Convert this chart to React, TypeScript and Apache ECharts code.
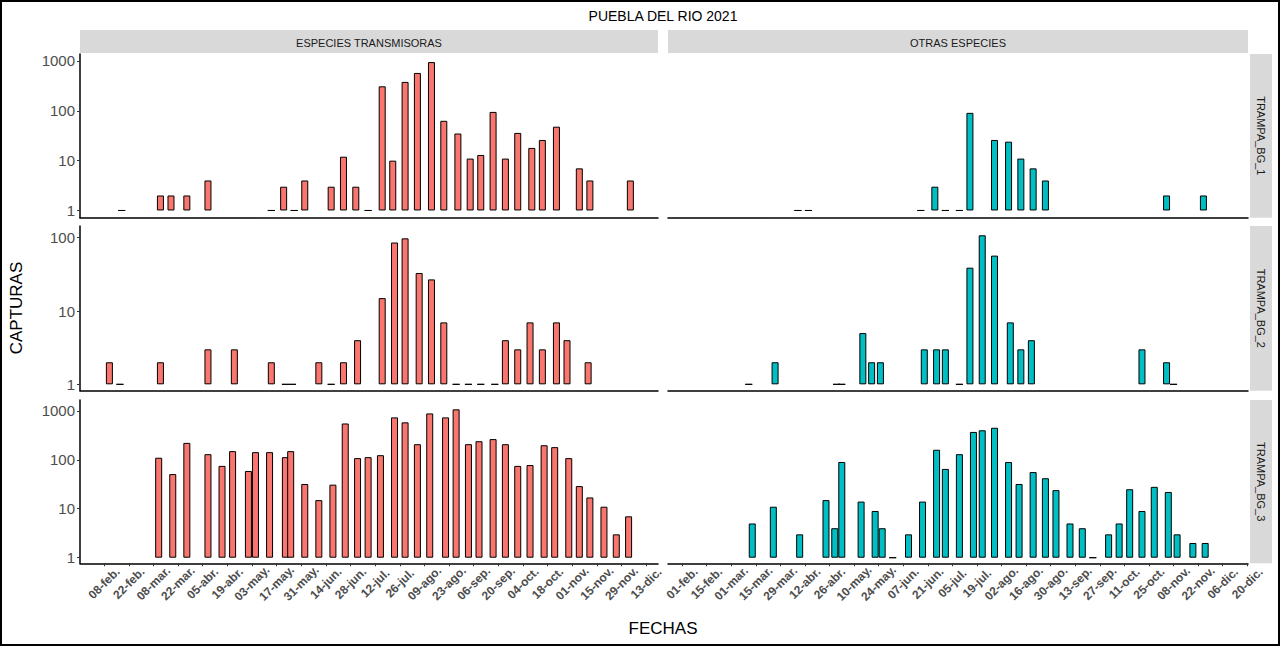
import React, { useEffect, useRef } from "react";
import * as echarts from "echarts";

// x values: days after 08-feb-2021 (left column) / days after 01-feb-2021 (right column)
const T1_X = [10, 32, 38, 47, 59, 95, 102, 108, 114, 129, 136, 143, 150, 158, 164, 171, 178, 186, 193, 201, 208, 214, 221, 228, 235, 243, 249, 257, 270, 276, 299];
const T1_V = [1, 2, 2, 2, 4, 1, 3, 1, 4, 3, 12, 3, 1, 310, 10, 380, 575, 950, 63, 35, 11, 13, 95, 11, 36, 18, 26, 48, 7, 4, 4];
const T2_X = [3, 9, 32, 59, 74, 95, 103, 107, 122, 129, 136, 144, 158, 165, 171, 179, 186, 193, 200, 207, 214, 222, 228, 235, 242, 249, 257, 263, 275];
const T2_V = [2, 1, 2, 3, 3, 2, 1, 1, 2, 1, 2, 4, 15, 86, 98, 33, 27, 7, 1, 1, 1, 1, 4, 3, 7, 3, 7, 4, 2];
const T3_X = [31, 39, 47, 59, 67, 73, 82, 86, 94, 103, 106, 114, 122, 130, 137, 144, 150, 157, 165, 171, 178, 185, 194, 200, 207, 213, 221, 228, 235, 242, 250, 256, 264, 270, 276, 284, 291, 298];
const T3_V = [110, 51, 221, 130, 75, 150, 59, 143, 143, 113, 150, 32, 15, 31, 550, 108, 113, 124, 733, 580, 208, 883, 733, 1070, 208, 239, 264, 208, 75, 78, 198, 181, 108, 29, 17, 11, 3, 7];

const O1_X = [66, 72, 136, 144, 150, 158, 164, 178, 186, 193, 200, 207, 276, 297];
const O1_V = [1, 1, 1, 3, 1, 1, 91, 26, 24, 11, 7, 4, 2, 2];
const O2_X = [38, 53, 88, 91, 103, 108, 113, 138, 145, 150, 158, 164, 171, 178, 187, 193, 199, 262, 276, 280];
const O2_V = [1, 2, 1, 1, 5, 2, 2, 3, 3, 3, 1, 39, 108, 57, 7, 3, 4, 3, 2, 1];
const O3_X = [40, 52, 67, 82, 87, 91, 102, 110, 114, 120, 129, 137, 145, 150, 158, 166, 171, 178, 186, 192, 200, 207, 213, 221, 228, 234, 243, 249, 255, 262, 269, 277, 282, 291, 298];
const O3_V = [5, 11, 3, 15, 4, 90, 14, 9, 4, 1, 3, 14, 160, 65, 130, 370, 400, 450, 90, 32, 56, 42, 24, 5, 4, 1, 3, 5, 25, 9, 28, 22, 3, 2, 2];

const LEFT_TICKS = Array.from({ length: 23 }, (_, i) => i * 14);
const RIGHT_TICKS = Array.from({ length: 24 }, (_, i) => i * 14);
const Y_TICKS = [1, 10, 100, 1000];
const COLUMNS = ["ESPECIES TRANSMISORAS", "OTRAS ESPECIES"];
const ROWS = ["TRAMPA_BG_1", "TRAMPA_BG_2", "TRAMPA_BG_3"];
const MONTHS = ["ene", "feb", "mar", "abr", "may", "jun", "jul", "ago", "sep", "oct", "nov", "dic"];

const LEFT_BASE = Date.UTC(2021, 1, 8);
const RIGHT_BASE = Date.UTC(2021, 1, 1);

function fmtDate(base: number, d: number) {
  const dt = new Date(base + d * 86400000);
  const dd = String(dt.getUTCDate()).padStart(2, "0");
  return dd + "-" + MONTHS[dt.getUTCMonth()] + ".";
}

export default function App() {
  const ref = useRef<HTMLDivElement>(null);
  useEffect(() => {
    document.body.style.margin = "0";
    const chart = echarts.init(ref.current!, null, { renderer: "svg" });
    const rowsPos = [
      { top: 54, bottom: 646 - 217.7, min: -0.145, max: 3.14 },
      { top: 226, bottom: 646 - 390.7, min: -0.087, max: 2.16 },
      { top: 400, bottom: 646 - 563.3, min: -0.114, max: 3.22 },
    ];
    const cols = [
      { left: 80, width: 578, min: -13.7, max: 314.7, ticks: LEFT_TICKS, base: LEFT_BASE, color: "#F8766D" },
      { left: 668, width: 580, min: -8.0, max: 322.4, ticks: RIGHT_TICKS, base: RIGHT_BASE, color: "#00BFC4" },
    ];
    const data = [
      [[T1_X, T1_V], [O1_X, O1_V]],
      [[T2_X, T2_V], [O2_X, O2_V]],
      [[T3_X, T3_V], [O3_X, O3_V]],
    ];
    const grid: any[] = [], xAxis: any[] = [], yAxis: any[] = [], series: any[] = [];
    rowsPos.forEach((r, ri) => {
      cols.forEach((c, ci) => {
        const idx = grid.length;
        grid.push({ left: c.left, width: c.width, top: r.top, bottom: r.bottom });
        const lastRow = ri === 2;
        xAxis.push({
          type: "value", gridIndex: idx, min: c.min, max: c.max,
          splitLine: { show: false },
          axisLine: { show: true, onZero: false, lineStyle: { color: "#000", width: 1.5 } },
          axisTick: { show: lastRow, customValues: c.ticks, length: 3, lineStyle: { color: "#333" } },
          axisLabel: {
            show: lastRow, customValues: c.ticks, rotate: 45, fontSize: 12, color: "#4d4d4d",
            fontFamily: "Liberation Sans", fontWeight: "bold", margin: 20,
            align: "center", verticalAlign: "middle", showMaxLabel: true, showMinLabel: true,
            formatter: (v: number) => fmtDate(c.base, v),
          },
        });
        const yv = Y_TICKS.map((t) => Math.log10(t));
        yAxis.push({
          type: "value", gridIndex: idx, min: r.min, max: r.max,
          splitLine: { show: false },
          axisLine: { show: ci === 0, onZero: false, lineStyle: { color: "#000", width: 1.5 } },
          axisTick: { show: ci === 0, customValues: yv, length: 3, lineStyle: { color: "#333" } },
          axisLabel: {
            show: ci === 0, customValues: yv, fontSize: 15, color: "#4d4d4d",
            fontFamily: "Liberation Sans", margin: 5,
            formatter: (v: number) => String(Math.round(Math.pow(10, v))),
          },
        });
        const [xs, vs] = data[ri][ci];
        series.push({
          type: "bar", xAxisIndex: idx, yAxisIndex: idx, barWidth: 7,
          itemStyle: { color: c.color, borderColor: "#000", borderWidth: 1 },
          data: xs.map((x: number, i: number) => [x, Math.log10(vs[i])]),
        });
      });
    });
    const graphic: any[] = [
      { type: "rect", shape: { x: 1, y: 1, width: 1278, height: 644 }, style: { fill: "none", stroke: "#000", lineWidth: 2 } },
      { type: "text", x: 663, y: 16, style: { text: "PUEBLA DEL RIO 2021", fontSize: 14, fill: "#000", fontFamily: "Liberation Sans", align: "center", verticalAlign: "middle" } },
      { type: "text", x: 663, y: 628, style: { text: "FECHAS", fontSize: 17, fill: "#000", fontFamily: "Liberation Sans", align: "center", verticalAlign: "middle" } },
      { type: "text", x: 16, y: 308, rotation: Math.PI / 2, style: { text: "CAPTURAS", fontSize: 17, fill: "#000", fontFamily: "Liberation Sans", align: "center", verticalAlign: "middle" } },
    ];
    cols.forEach((c, ci) => {
      graphic.push({ type: "rect", shape: { x: c.left, y: 30, width: c.width, height: 23 }, style: { fill: "#D9D9D9" } });
      graphic.push({ type: "text", x: c.left + c.width / 2, y: 43, style: { text: COLUMNS[ci], fontSize: 11, fill: "#1a1a1a", fontFamily: "Liberation Sans", align: "center", verticalAlign: "middle" } });
    });
    rowsPos.forEach((r, ri) => {
      const top = r.top, bot = 646 - r.bottom;
      graphic.push({ type: "rect", shape: { x: 1250, y: top, width: 22, height: bot - top }, style: { fill: "#D9D9D9" } });
      graphic.push({ type: "text", x: 1261, y: (top + bot) / 2, rotation: -Math.PI / 2, style: { text: ROWS[ri], fontSize: 11, fill: "#1a1a1a", fontFamily: "Liberation Sans", align: "center", verticalAlign: "middle" } });
    });
    chart.setOption({ animation: false, backgroundColor: "#fff", grid, xAxis, yAxis, series, graphic });
    return () => chart.dispose();
  }, []);
  return <div ref={ref} style={{ width: 1280, height: 646 }} />;
}
